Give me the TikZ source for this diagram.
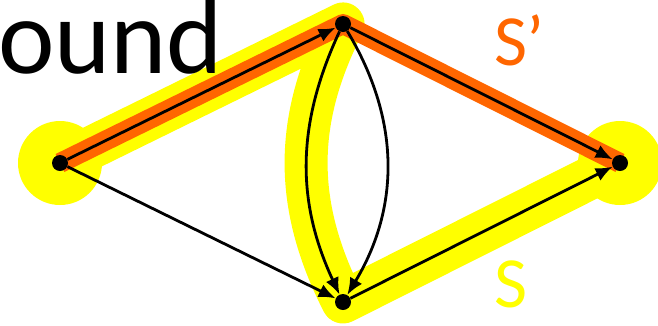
\documentclass[tikz,border=0pt]{standalone}
\usepackage{fontspec}
\setmainfont{Carlito}
\usetikzlibrary{arrows.meta,backgrounds}

\definecolor{hlyellow}{RGB}{255,255,0}
\definecolor{hlorange}{RGB}{255,102,0}

\begin{document}
\begin{tikzpicture}[
  x=1pt, y=-1pt,
  vertex/.style={circle, fill=black, inner sep=0pt, minimum size=16pt},
  arrow/.style={-{Latex[length=17pt,width=14pt]}, line width=2.8pt},
  cutpath/.style={hlyellow, line width=43pt, line cap=round, line join=round},
  shortpath/.style={hlorange, line width=20pt, line join=round},
  label/.style={inner sep=0pt, anchor=base west, font=\fontsize{72}{72}\selectfont},
]
  \useasboundingbox (0,0) rectangle (658,325);

  \node[inner sep=0pt, anchor=base west, font=\fontsize{107}{107}\selectfont] (title) at (-2,73) {ound};

  \node[vertex] (src) at (60,163) {};
  \node[vertex] (up) at (343,24) {};
  \node[vertex] (down) at (343,302) {};
  \node[vertex] (dst) at (620,163) {};

  % highlighted paths
  \begin{scope}[on background layer]
    \fill[hlyellow] (src.center) circle (42pt);
    \fill[hlyellow] (dst.center) circle (42pt);
    \draw[cutpath] (src.center) -- (up.center) to[bend right=27] (down.center) -- (dst.center);
    \draw[shortpath] (src.center) -- (up.center) -- (dst.center);
  \end{scope}

  \node[label, text=hlorange] (sprime) at (494,65) {S’};
  \node[label, text=hlyellow] (s) at (494,307) {S};

  % edges
  \draw[arrow] (src) -- (up);
  \draw[arrow] (src) -- (down);
  \draw[arrow] (up) to[bend right=25] (down);
  \draw[arrow] (up) to[bend left=31] (down);
  \draw[arrow] (up) -- (dst);
  \draw[arrow] (down) -- (dst);
\end{tikzpicture}
\end{document}
